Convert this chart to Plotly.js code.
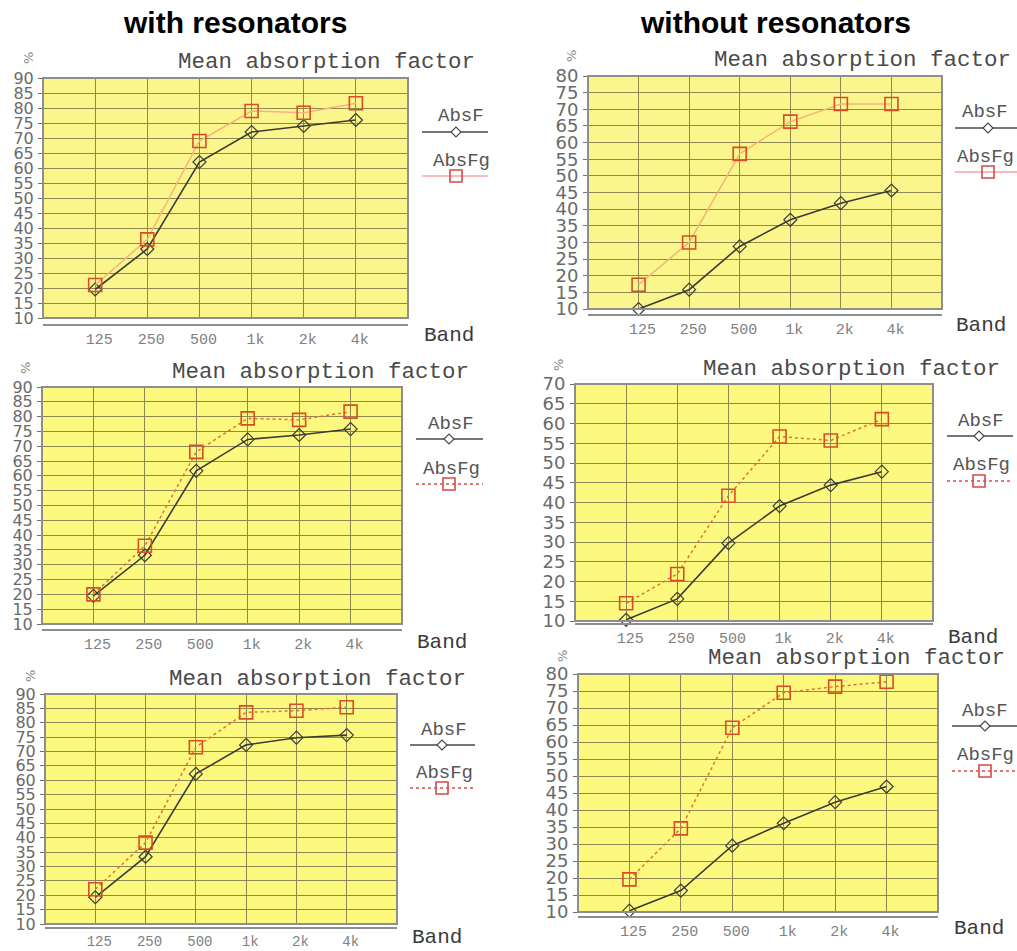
<!DOCTYPE html>
<html><head><meta charset="utf-8">
<script src="https://cdn.plot.ly/plotly-3.0.1.min.js"></script>
<style>body{margin:0;background:#fff}#c{width:1017px;height:951px}</style>
</head><body><div id="c"></div>
<script>
// ---- data ----
const bands = ['125','250','500','1k','2k','4k'];
// with resonators (left column)
const p1_AbsF  = [19.5, 33, 62, 72, 74, 76];
const p1_AbsFg = [21, 36.2, 69, 79, 78.4, 81.6];
const p3_AbsF  = [19.5, 33.2, 61.7, 72.3, 73.8, 75.8];
const p3_AbsFg = [20, 36.4, 68.1, 79.4, 78.9, 81.7];
const p5_AbsF  = [19.3, 33.4, 62.2, 72.3, 74.8, 75.7];
const p5_AbsFg = [22.1, 38.3, 71.5, 83.6, 84.2, 85.4];
// without resonators (right column)
const p2_AbsF  = [10, 15.8, 28.8, 36.8, 41.8, 45.6];
const p2_AbsFg = [17.3, 30, 56.6, 66.3, 71.6, 71.6];
const p4_AbsF  = [10.3, 15.6, 29.7, 39.1, 44.4, 47.8];
const p4_AbsFg = [14.5, 21.9, 41.7, 56.7, 55.7, 61.1];
const p6_AbsF  = [10.4, 16.3, 29.5, 36.1, 42.3, 46.9];
const p6_AbsFg = [19.6, 34.6, 64.2, 74.5, 76.3, 77.7];
const yMax = [90, 80, 90, 70, 90, 80];
const seriesNames = ['AbsF', 'AbsFg'];
const colHeaders = ['with resonators', 'without resonators'];
const chartTitle = 'Mean absorption factor';
const xTitle = 'Band';
const unitLabel = '%';

const W = 1017, H = 951;
const PX = x => x / W, PY = y => 1 - y / H;

// panel geometry in pixels
const panels = [
  {F:p1_AbsF, G:p1_AbsFg, box:[43,78,408,318], axisY:325, xfs:15, yfs:16, title:[326,62], band:[449,335], leg:{x0:422,x1:488,mx:456,tx:461,t1:116,l1:132,t2:161,l2:176}, pct:[29,58], dotted:false, bg:'#fbf68c'},
  {F:p2_AbsF, G:p2_AbsFg, box:[588,76,942,309], axisY:315, xfs:15, yfs:18, title:[862,60], band:[981,325], leg:{x0:955,x1:1017,mx:988,tx:985,t1:112,l1:128,t2:157,l2:172}, pct:[572,56], dotted:false, bg:'#fbf68c'},
  {F:p3_AbsF, G:p3_AbsFg, box:[42,387,402,624], axisY:630, xfs:15, yfs:16, title:[320,372], band:[442,642], leg:{x0:416,x1:483,mx:449,tx:451,t1:424,l1:439,t2:469,l2:484}, pct:[25,368], dotted:true, bg:'#fdf97e'},
  {F:p4_AbsF, G:p4_AbsFg, box:[575,384,933,621], axisY:624, xfs:15, yfs:18, title:[851,369], band:[973,637], leg:{x0:947,x1:1013,mx:979,tx:981,t1:421,l1:436,t2:465,l2:481}, pct:[558,365], dotted:true, bg:'#fdf97e'},
  {F:p5_AbsF, G:p5_AbsFg, box:[45,694,397,924], axisY:928, xfs:14, yfs:16, title:[317,679], band:[437,937], leg:{x0:410,x1:475,mx:442,tx:444,t1:730,l1:745,t2:773,l2:788}, pct:[30,676], dotted:true, bg:'#fdf97e'},
  {F:p6_AbsF, G:p6_AbsFg, box:[578,674,938,912], axisY:917, xfs:15, yfs:18, title:[856,658], band:[979,928], leg:{x0:952,x1:1017,mx:985,tx:985,t1:711,l1:726,t2:755,l2:771}, pct:[562,656], dotted:true, bg:'#fdf97e'}
];

const data = [], shapes = [], annotations = [];
const layout = {
  width: W, height: H, margin:{l:0,r:0,t:0,b:0},
  paper_bgcolor:'#ffffff', plot_bgcolor:'#fdf97e', showlegend:false,
  shapes, annotations
};
const gridCol = '#8c8a52';
const monoFont = 'Liberation Mono, Courier New, monospace';

panels.forEach((p, i) => {
  const n = i + 1, xa = 'x' + (n === 1 ? '' : n), ya = 'y' + (n === 1 ? '' : n);
  const xk = 'xaxis' + (n === 1 ? '' : n), yk = 'yaxis' + (n === 1 ? '' : n);
  const [bx0, by0, bx1, by1] = p.box;
  const orange = p.dotted ? '#e2703a' : '#f6b27a';
  layout[xk] = {
    domain:[PX(bx0), PX(bx1)], anchor:'free', position: PY(p.axisY),
    type:'category', categoryorder:'array', categoryarray:bands, range:[-1, 6],
    showgrid:true, gridcolor:gridCol, gridwidth:1, zeroline:false,
    showline:true, linecolor:'#8e8e8e', linewidth:2, ticks:'',
    tickfont:{family:monoFont, size:p.xfs, color:'#808080'}, ticklabelshift:4, ticklabelstandoff:0,
    fixedrange:true
  };
  layout[yk] = {
    domain:[PY(by1), PY(by0)], anchor:xa, range:[10, yMax[i]], dtick:5, tick0:10,
    showgrid:true, gridcolor:gridCol, gridwidth:1, zeroline:false,
    showline:false, ticks:'outside', ticklen:4, tickcolor:'#707070',
    tickfont:{family:'DejaVu Sans, sans-serif', size:p.yfs, color:'#6a6a6a'},
    ticklabelstandoff:1, fixedrange:true
  };
  shapes.push({type:'rect', xref:xa+' domain', yref:ya+' domain', x0:0, x1:1, y0:0, y1:1,
    fillcolor:p.bg, line:{width:0}, layer:'below'});
  shapes.push({type:'rect', xref:xa+' domain', yref:ya+' domain', x0:0, x1:1, y0:0, y1:1,
    line:{color:'#8e8e8e', width:2}, layer:'above'});

  data.push({x:bands, y:p.F, xaxis:xa, yaxis:ya, name:seriesNames[0], type:'scatter', mode:'lines+markers',
    line:{color:'#3c3c34', width:1.6},
    marker:{symbol:'diamond-open', size:10, color:'#3c3c34', line:{width:1.2}}, cliponaxis:false});
  data.push({x:bands, y:p.G, xaxis:xa, yaxis:ya, name:seriesNames[1], type:'scatter', mode:'lines+markers',
    line:{color:orange, width:1.5, dash: p.dotted ? 'dot' : 'solid'},
    marker:{symbol:'square-open', size:13, color:'#dc4a26', line:{width:1.6}}, cliponaxis:false});

  annotations.push({xref:'paper', yref:'paper', x:PX(p.title[0]), y:PY(p.title[1]), text:chartTitle,
    showarrow:false, xanchor:'center', yanchor:'middle', font:{family:monoFont, size:22.5, color:'#4a4a4a'}});
  annotations.push({xref:'paper', yref:'paper', x:PX(p.band[0]), y:PY(p.band[1]), text:xTitle,
    showarrow:false, xanchor:'center', yanchor:'middle', font:{family:monoFont, size:21, color:'#3a3a3a'}});
  annotations.push({xref:'paper', yref:'paper', x:PX(p.pct[0]), y:PY(p.pct[1]), text:unitLabel,
    showarrow:false, xanchor:'center', yanchor:'middle', textangle:-90, font:{family:'DejaVu Sans, sans-serif', size:13, color:'#8a8a8a'}});

  const L = p.leg;
  annotations.push({xref:'paper', yref:'paper', x:PX(L.tx), y:PY(L.t1), text:seriesNames[0],
    showarrow:false, xanchor:'center', yanchor:'middle', font:{family:monoFont, size:19, color:'#555'}});
  annotations.push({xref:'paper', yref:'paper', x:PX(L.tx), y:PY(L.t2), text:seriesNames[1],
    showarrow:false, xanchor:'center', yanchor:'middle', font:{family:monoFont, size:19, color:'#555'}});
  shapes.push({type:'line', xref:'paper', yref:'paper', x0:PX(L.x0), x1:PX(L.x1), y0:PY(L.l1), y1:PY(L.l1),
    line:{color:'#4a4a44', width:1.6}});
  shapes.push({type:'line', xref:'paper', yref:'paper', x0:PX(L.x0), x1:PX(L.x1), y0:PY(L.l2), y1:PY(L.l2),
    line:{color: p.dotted ? '#d8504a' : '#f4a4a4', width:1.4, dash: p.dotted ? 'dot' : 'solid'}});
  const d = 5;
  shapes.push({type:'path', xref:'paper', yref:'paper',
    path:`M ${PX(L.mx-d)} ${PY(L.l1)} L ${PX(L.mx)} ${PY(L.l1-d)} L ${PX(L.mx+d)} ${PY(L.l1)} L ${PX(L.mx)} ${PY(L.l1+d)} Z`,
    fillcolor:'#ffffff', line:{color:'#4a4a44', width:1.2}});
  shapes.push({type:'rect', xref:'paper', yref:'paper', x0:PX(L.mx-6), x1:PX(L.mx+6), y0:PY(L.l2-6), y1:PY(L.l2+6),
    fillcolor:'rgba(0,0,0,0)', line:{color:'#d84848', width:1.6}});
});

annotations.push({xref:'paper', yref:'paper', x:PX(235), y:PY(23), text:'<b>'+colHeaders[0]+'</b>', showarrow:false,
  xanchor:'center', yanchor:'middle', font:{family:'Liberation Sans, Arial, sans-serif', size:30, color:'#000'}});
annotations.push({xref:'paper', yref:'paper', x:PX(775), y:PY(23), text:'<b>'+colHeaders[1]+'</b>', showarrow:false,
  xanchor:'center', yanchor:'middle', font:{family:'Liberation Sans, Arial, sans-serif', size:30, color:'#000'}});

Plotly.newPlot('c', data, layout, {staticPlot:true, displayModeBar:false});
</script></body></html>
